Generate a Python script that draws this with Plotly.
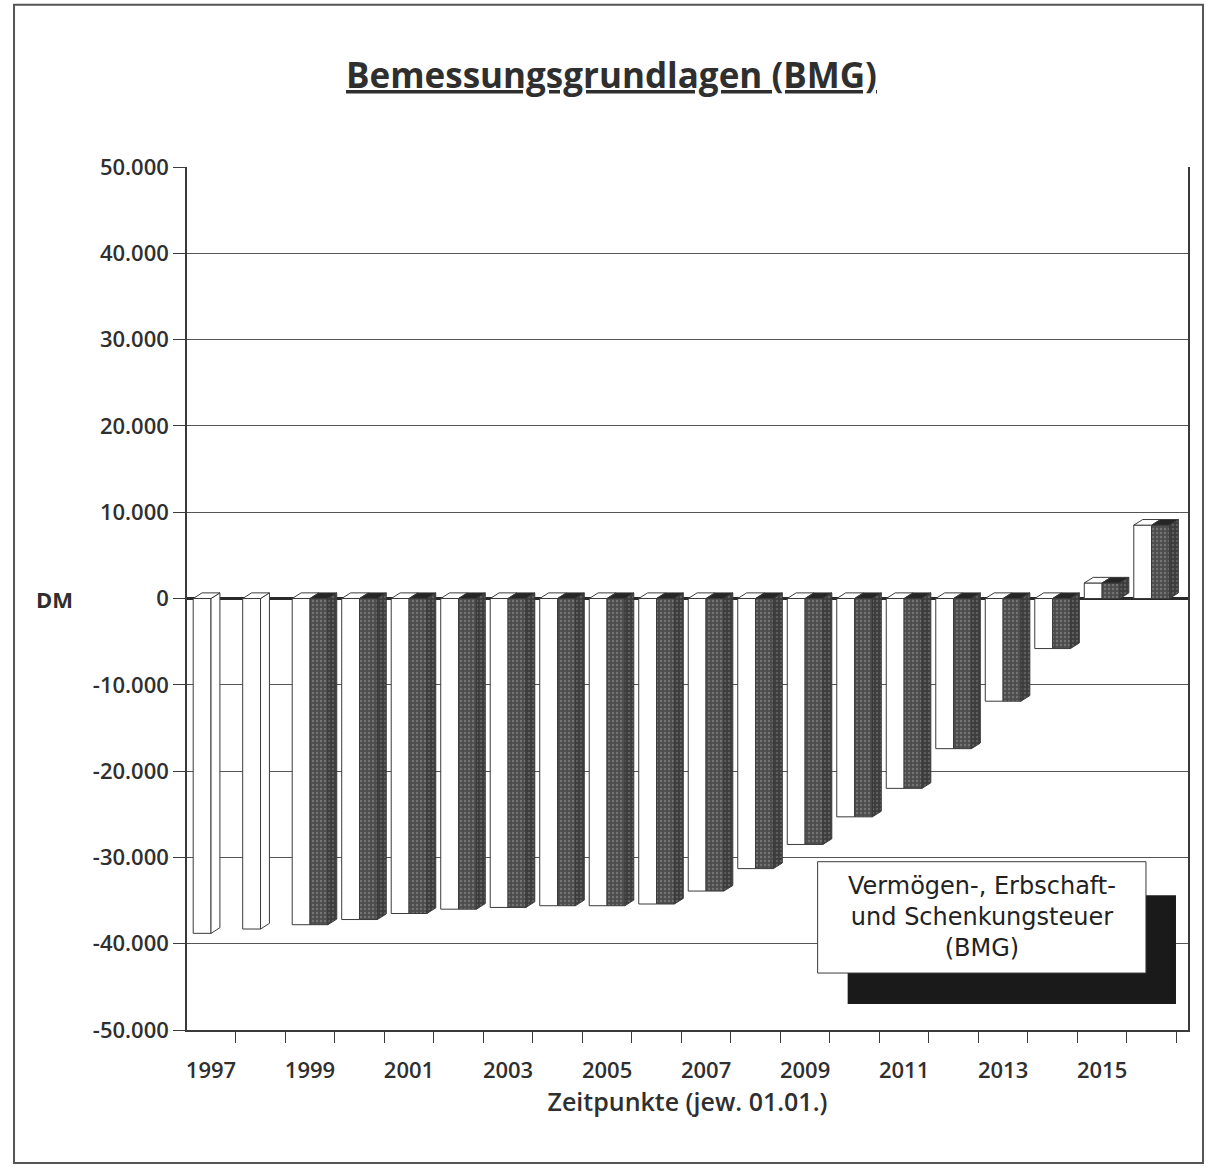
import plotly.graph_objects as go

# Jahre (jeweils 01.01.) und Bemessungsgrundlagen in DM
years = list(range(1997, 2017))
bmg_light = [-38800, -38300, -37800, -37200, -36500, -36000, -35800, -35600, -35600, -35400,
             -33900, -31300, -28500, -25300, -22000, -17400, -11900, -5800, 1800, 8500]
bmg_dark = [None, None, -37800, -37200, -36500, -36000, -35800, -35600, -35600, -35400,
            -33900, -31300, -28500, -25300, -22000, -17400, -11900, -5800, 1800, 8500]

y_tickvals = [50000, 40000, 30000, 20000, 10000, 0, -10000, -20000, -30000, -40000, -50000]
y_ticktext = ["50.000", "40.000", "30.000", "20.000", "10.000", "0",
              "-10.000", "-20.000", "-30.000", "-40.000", "-50.000"]
x_tickvals = [1997, 1999, 2001, 2003, 2005, 2007, 2009, 2011, 2013, 2015]
x_ticktext = [str(v) for v in x_tickvals]

legend_text = "Vermögen-, Erbschaft-<br>und Schenkungsteuer<br>(BMG)"

# geometry of the pseudo-3D columns (in axis units)
W = 0.36      # front face width
DX = 0.18     # depth, horizontal
DY = 650      # depth, vertical
EDGE = "#3a3a3a"
FONT = "Open Sans"
TXT = "#2f2f2f"


def side_faces(xs, vals, left):
    px, py = [], []
    for x, v in zip(xs, vals):
        if v is None:
            continue
        x1 = x + left + W
        px += [x1, x1 + DX, x1 + DX, x1, x1, None]
        py += [0, DY, v + DY, v, 0, None]
    return px, py


def top_faces(xs, vals, left):
    px, py = [], []
    for x, v in zip(xs, vals):
        if v is None:
            continue
        top = max(v, 0)
        x0 = x + left
        x1 = x0 + W
        px += [x0, x0 + DX, x1 + DX, x1, x0, None]
        py += [top, top + DY, top + DY, top, top, None]
    return px, py


fig = go.Figure()

# light columns: front faces
fig.add_trace(go.Bar(
    x=years, y=bmg_light, width=W, offset=-W,
    marker=dict(color="white", line=dict(color=EDGE, width=1)),
    showlegend=False, hoverinfo="x+y",
))
# dark columns: front faces
fig.add_trace(go.Bar(
    x=years, y=bmg_dark, width=W, offset=0,
    marker=dict(color="#4c4c4c", line=dict(color=EDGE, width=1),
                pattern=dict(shape=".", fgcolor="#9a9a9a", bgcolor="#4c4c4c",
                             size=4, solidity=0.3)),
    showlegend=False, hoverinfo="x+y",
))

# light columns: side faces where no dark column stands in front of them
lone = [v if d is None else None for v, d in zip(bmg_light, bmg_dark)]
sx, sy = side_faces(years, lone, -W)
fig.add_trace(go.Scatter(x=sx, y=sy, mode="lines", fill="toself", fillcolor="white",
                         line=dict(color=EDGE, width=1), showlegend=False, hoverinfo="skip"))
# light columns: top faces
tx, ty = top_faces(years, bmg_light, -W)
fig.add_trace(go.Scatter(x=tx, y=ty, mode="lines", fill="toself", fillcolor="white",
                         line=dict(color=EDGE, width=1), showlegend=False, hoverinfo="skip"))
# dark columns: top and side faces
tx, ty = top_faces(years, bmg_dark, 0)
fig.add_trace(go.Scatter(x=tx, y=ty, mode="lines", fill="toself", fillcolor="#262626",
                         line=dict(color=EDGE, width=1), showlegend=False, hoverinfo="skip"))
sx, sy = side_faces(years, bmg_dark, 0)
fig.add_trace(go.Scatter(x=sx, y=sy, mode="lines", fill="toself", fillcolor="#3c3c3c",
                         fillpattern=dict(shape=".", fgcolor="#808080", bgcolor="#3c3c3c",
                                          size=4, solidity=0.3),
                         line=dict(color=EDGE, width=1), showlegend=False, hoverinfo="skip"))

fig.update_layout(
    width=1206, height=1167,
    margin=dict(l=187, r=18, t=167, b=137),
    paper_bgcolor="white", plot_bgcolor="white",
    barmode="overlay",
    showlegend=False,
    font=dict(family=FONT, color=TXT),
    xaxis=dict(
        range=[1996.515, 2016.735],
        tickmode="array", tickvals=x_tickvals, ticktext=x_ticktext,
        ticks="", ticklabelstandoff=20,
        tickfont=dict(family=FONT, size=22, color=TXT, weight=600),
        showgrid=False, zeroline=False,
        showline=True, linecolor=EDGE, linewidth=1.5,
        minor=dict(tickmode="linear", tick0=1996.5, dtick=1, ticks="outside",
                   ticklen=11, tickcolor=EDGE, tickwidth=1, showgrid=False),
        title=dict(text="Zeitpunkte (jew. 01.01.)", standoff=4,
                   font=dict(family=FONT, size=25, color=TXT, weight=600)),
    ),
    yaxis=dict(
        range=[-50000, 50000],
        tickmode="array", tickvals=y_tickvals, ticktext=y_ticktext,
        ticks="outside", ticklen=12, tickcolor=EDGE,
        tickfont=dict(family=FONT, size=22, color=TXT, weight=600),
        showgrid=True, gridcolor="#555555", gridwidth=1,
        zeroline=True, zerolinecolor="#2a2a2a", zerolinewidth=2.5,
        showline=True, linecolor=EDGE, linewidth=1.5, mirror=True,
    ),
    shapes=[
        # outer frame
        dict(type="rect", xref="paper", yref="paper", x0=-0.1728, x1=1.015, y0=-0.154, y1=1.188,
             line=dict(color="#555555", width=2), fillcolor="rgba(0,0,0,0)", layer="below"),
        # legend shadow and box
        dict(type="rect", xref="paper", yref="paper", x0=0.660, x1=0.988, y0=0.030, y1=0.156,
             line=dict(width=0), fillcolor="#1a1a1a"),
        dict(type="rect", xref="paper", yref="paper", x0=0.630, x1=0.958, y0=0.066, y1=0.195,
             line=dict(color=EDGE, width=1), fillcolor="white"),
    ],
    annotations=[
        dict(text="<b><u>Bemessungsgrundlagen (BMG)</u></b>", xref="paper", yref="paper",
             x=0.4236, y=1.107, showarrow=False, xanchor="center", yanchor="middle",
             font=dict(family=FONT, size=35, color=TXT, weight=800)),
        dict(text="DM", xref="paper", yref="y", x=-0.132, y=0, showarrow=False,
             xanchor="center", yanchor="middle",
             font=dict(family=FONT, size=22, color=TXT, weight=700)),
        dict(text=legend_text, xref="paper", yref="paper", x=0.794, y=0.131, showarrow=False,
             xanchor="center", yanchor="middle", align="center",
             font=dict(family="DejaVu Sans", size=24, color="#222222")),
    ],
)

fig.write_html("out.html")
